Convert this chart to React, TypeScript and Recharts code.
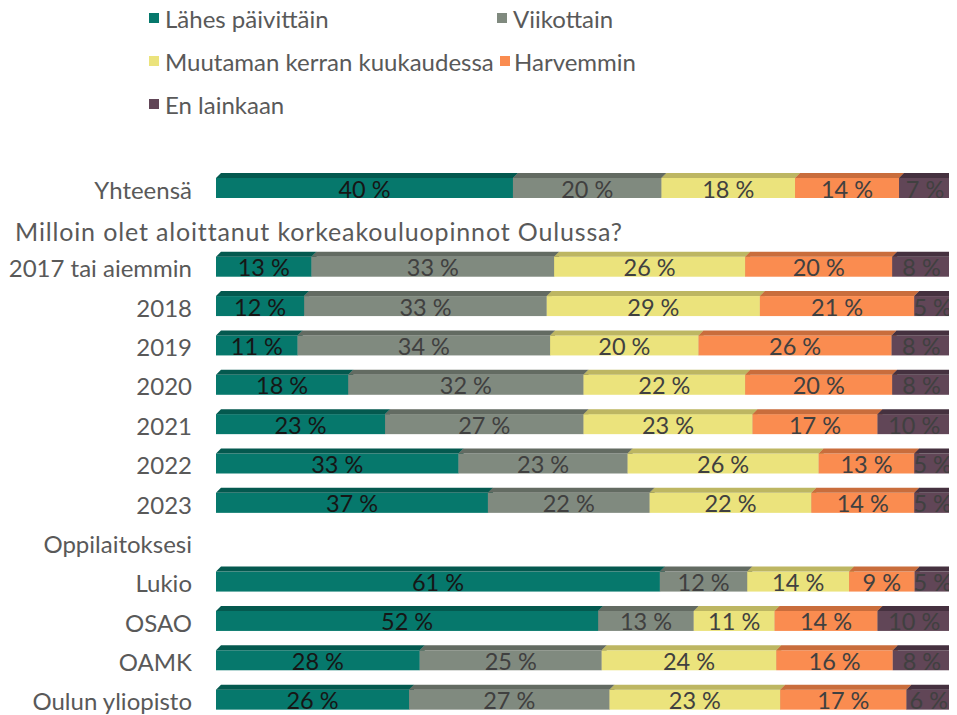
import React from "react";
import { BarChart, Bar, XAxis, YAxis, Legend, LabelList } from "recharts";

const categories = [
  "Yhteensä",
  "Milloin olet aloittanut korkeakouluopinnot Oulussa?",
  "2017 tai aiemmin",
  "2018",
  "2019",
  "2020",
  "2021",
  "2022",
  "2023",
  "Oppilaitoksesi",
  "Lukio",
  "OSAO",
  "OAMK",
  "Oulun yliopisto",
];

const seriesNames = [
  "Lähes päivittäin",
  "Viikottain",
  "Muutaman kerran kuukaudessa",
  "Harvemmin",
  "En lainkaan",
];

const lahesPaivittain = [40, null, 13, 12, 11, 18, 23, 33, 37, null, 61, 52, 28, 26];
const viikottain = [20, null, 33, 33, 34, 32, 27, 23, 22, null, 12, 13, 25, 27];
const muutamanKerran = [18, null, 26, 29, 20, 22, 23, 26, 22, null, 14, 11, 24, 23];
const harvemmin = [14, null, 20, 21, 26, 20, 17, 13, 14, null, 9, 14, 16, 17];
const enLainkaan = [7, null, 8, 5, 8, 8, 10, 5, 5, null, 5, 10, 8, 6];

const headerRows = ["Milloin olet aloittanut korkeakouluopinnot Oulussa?"];

const keys = ["s0", "s1", "s2", "s3", "s4"];
const seriesValues = [lahesPaivittain, viikottain, muutamanKerran, harvemmin, enLainkaan];

const data = categories.map((name, i) => {
  const row: any = { name };
  keys.forEach((k, s) => {
    row[k] = seriesValues[s][i];
  });
  return row;
});

const colors = [
  { front: "#06786c", top: "#04594f", label: "#161616" },
  { front: "#808a7f", top: "#636b62", label: "#404040" },
  { front: "#ebe37c", top: "#bdb662", label: "#404040" },
  { front: "#fa8c50", top: "#c96d3c", label: "#404040" },
  { front: "#614657", top: "#45313f", label: "#404040" },
];

const FONT = "Lato, 'Noto Sans', sans-serif";
const DEPTH = 5;

const makeShape = (c: { front: string; top: string }) => (props: any) => {
  const { x, y, width, height } = props;
  if (!width || width <= 0 || !height) return <g />;
  const d = DEPTH;
  const topPts = `${x},${y + d} ${x + d},${y} ${x + width + d},${y} ${x + width},${y + d}`;
  const sidePts = `${x + width},${y + d} ${x + width + d},${y} ${x + width + d},${y + height - d} ${x + width},${y + height}`;
  return (
    <g>
      <rect x={x} y={y + d} width={width} height={height - d} fill={c.front} />
      <polygon points={topPts} fill={c.top} />
      <polygon points={sidePts} fill={c.top} />
    </g>
  );
};

const makeLabel = (key: string, color: string) => (props: any) => {
  const { x, y, width, height, index } = props;
  const v = data[index] ? data[index][key] : null;
  if (v === null || v === undefined || !width) return null;
  return (
    <text
      x={x + width / 2}
      y={y + height - 0.5}
      textAnchor="middle"
      fontFamily={FONT}
      fontSize={23.5}
      fill={color}
    >
      {`${v} %`}
    </text>
  );
};

const Tick = (props: any) => {
  const { y, payload } = props;
  const label = payload.value as string;
  const isLeft = headerRows.includes(label);
  return (
    <text
      x={isLeft ? 7 : 184}
      y={y + (isLeft ? 16 : 13)}
      textAnchor={isLeft ? "start" : "end"}
      fontFamily={FONT}
      fontSize={isLeft ? 25 : 24}
      letterSpacing={isLeft ? 0.85 : 0}
      fill="#595959"
    >
      {label}
    </text>
  );
};

const legendPos = [
  { x: 141, y: -3 },
  { x: 489, y: -3 },
  { x: 141, y: 40 },
  { x: 492, y: 40 },
  { x: 141, y: 83 },
];

const renderLegend = () => (
  <div style={{ position: "relative", width: 949, height: 158 }}>
    {seriesNames.map((n, i) => (
      <div
        key={n}
        style={{
          position: "absolute",
          left: legendPos[i].x,
          top: legendPos[i].y,
          display: "flex",
          alignItems: "center",
          fontFamily: FONT,
          fontSize: 24,
          color: "#595959",
          height: 26,
          whiteSpace: "nowrap",
        }}
      >
        <span
          style={{
            display: "inline-block",
            width: 10,
            height: 10,
            background: colors[i].front,
            marginRight: i === 3 ? 4 : 6,
          }}
        />
        {n}
      </div>
    ))}
  </div>
);

export default function App() {
  return (
    <BarChart
      width={949}
      height={709}
      data={data}
      layout="vertical"
      stackOffset="expand"
      margin={{ top: 0, right: 6, bottom: 0, left: 0 }}
      barSize={25}
    >
      <XAxis type="number" hide domain={[0, 1]} />
      <YAxis
        type="category"
        dataKey="name"
        width={208}
        axisLine={false}
        tickLine={false}
        interval={0}
        tick={<Tick />}
      />
      <Legend verticalAlign="top" align="left" content={renderLegend} />
      {keys.map((k, i) => (
        <Bar
          key={k}
          dataKey={k}
          name={seriesNames[i]}
          stackId="a"
          isAnimationActive={false}
          fill={colors[i].front}
          shape={makeShape(colors[i])}
        >
          <LabelList dataKey={k} content={makeLabel(k, colors[i].label)} />
        </Bar>
      ))}
    </BarChart>
  );
}
